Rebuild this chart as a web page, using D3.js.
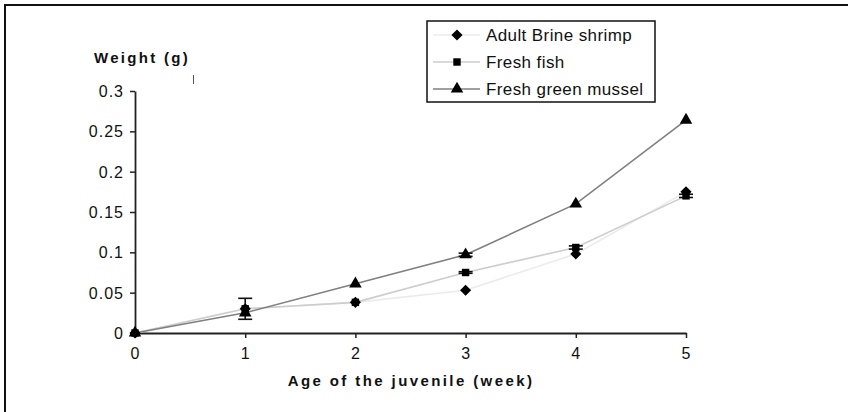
<!DOCTYPE html>
<html>
<head>
<meta charset="utf-8">
<script src="https://cdn.jsdelivr.net/npm/d3@7"></script>
<style>
  body { margin: 0; background: #fff; }
  svg { display: block; font-family: "Liberation Sans", Arial, sans-serif; }
</style>
</head>
<body>
<svg id="chart"></svg>
<script>
const weeks = [0, 1, 2, 3, 4, 5];
const yTicks = [0, 0.05, 0.1, 0.15, 0.2, 0.25, 0.3];
const yTickLabels = ["0", "0.05", "0.1", "0.15", "0.2", "0.25", "0.3"];

const seriesNames = ["Adult Brine shrimp", "Fresh fish", "Fresh green mussel"];
const shrimp = [0, 0.03, 0.038, 0.053, 0.098, 0.175];
const fish = [0, 0.03, 0.038, 0.075, 0.106, 0.17];
const mussel = [0, 0.025, 0.061, 0.097, 0.16, 0.264];
const shrimpErr = [0, 0.013, 0, 0, 0, 0];
const fishErr = [0, 0, 0, 0.001, 0.002, 0.002];
const musselErr = [0, 0, 0, 0.002, 0, 0];

const width = 848;
const height = 412;

const series = [
  { name: seriesNames[0], values: shrimp, err: shrimpErr, color: "#ebebeb", symbol: "diamond" },
  { name: seriesNames[1], values: fish, err: fishErr, color: "#cdcdcd", symbol: "square" },
  { name: seriesNames[2], values: mussel, err: musselErr, color: "#808080", symbol: "triangle" }
];

const svg = d3.select("#chart").attr("width", width).attr("height", height);

// frame (only left and top edges visible)
svg.append("path")
  .attr("d", `M5,${height + 5} V5 H${width + 5}`)
  .attr("fill", "none")
  .attr("stroke", "#111")
  .attr("stroke-width", 2);

const x = d3.scaleLinear().domain([0, 5]).range([135, 686]);
const y = d3.scaleLinear().domain([0, 0.3]).range([333, 91]);

// axes
const xAxis = svg.append("g")
  .attr("transform", `translate(0,${y(0)})`)
  .call(d3.axisBottom(x).tickValues(weeks).tickFormat(d3.format("d")).tickSize(5).tickSizeOuter(0).tickPadding(10));
const yAxis = svg.append("g")
  .attr("transform", `translate(${x(0)},0)`)
  .call(d3.axisLeft(y).tickValues(yTicks).tickFormat((d, i) => yTickLabels[i]).tickSize(5).tickSizeOuter(0).tickPadding(6));

[xAxis, yAxis].forEach((g) => {
  g.select(".domain").attr("stroke", "#222").attr("stroke-width", 1.8);
  g.selectAll(".tick line").attr("stroke", "#222").attr("stroke-width", 1.5);
  g.selectAll(".tick text")
    .attr("fill", "#111")
    .style("font-size", "16px")
    .style("letter-spacing", "1px");
});
yAxis.selectAll(".tick text").attr("dy", "0.35em");

// axis titles
svg.append("text")
  .attr("x", 94)
  .attr("y", 63)
  .style("font-size", "15px")
  .style("font-weight", "bold")
  .style("letter-spacing", "2.3px")
  .attr("fill", "#111")
  .text("Weight (g)");

svg.append("text")
  .attr("x", 411)
  .attr("y", 386)
  .attr("text-anchor", "middle")
  .style("font-size", "15px")
  .style("font-weight", "bold")
  .style("letter-spacing", "2.4px")
  .attr("fill", "#111")
  .text("Age of the juvenile (week)");

// stray mark near the title
svg.append("line")
  .attr("x1", 193.5).attr("x2", 193.5)
  .attr("y1", 75).attr("y2", 84)
  .attr("stroke", "#555").attr("stroke-width", 1);

const symbolType = { diamond: d3.symbolSquare, square: d3.symbolSquare, triangle: d3.symbolTriangle };
const symbolSize = { diamond: 62, square: 55, triangle: 68 };
const symbolRotate = { diamond: 45, square: 0, triangle: 0 };

const line = d3.line().x((d, i) => x(weeks[i])).y((d) => y(d));

// lines
series.forEach((s) => {
  svg.append("path")
    .datum(s.values)
    .attr("fill", "none")
    .attr("stroke", s.color)
    .attr("stroke-width", 1.6)
    .attr("d", line);
});

// error bars
series.forEach((s) => {
  const g = svg.append("g").attr("stroke", "#111").attr("stroke-width", 1.6);
  s.values.forEach((v, i) => {
    if (!s.err[i]) return;
    const cx = x(weeks[i]);
    g.append("line").attr("x1", cx).attr("x2", cx).attr("y1", y(v + s.err[i])).attr("y2", y(v - s.err[i]));
    [v + s.err[i], v - s.err[i]].forEach((e) => {
      g.append("line").attr("x1", cx - 7).attr("x2", cx + 7).attr("y1", y(e)).attr("y2", y(e));
    });
  });
});

// markers
series.forEach((s) => {
  svg.append("g")
    .selectAll("path")
    .data(s.values)
    .join("path")
    .attr("transform", (d, i) => `translate(${x(weeks[i])},${y(d)}) rotate(${symbolRotate[s.symbol]})`)
    .attr("d", d3.symbol().type(symbolType[s.symbol]).size(symbolSize[s.symbol]))
    .attr("fill", "#000");
});

// legend
const legend = svg.append("g").attr("transform", "translate(427,21)");
legend.append("rect")
  .attr("width", 228)
  .attr("height", 81)
  .attr("fill", "#fff")
  .attr("stroke", "#111")
  .attr("stroke-width", 1.5);

series.forEach((s, i) => {
  const ly = 14 + i * 27;
  legend.append("line")
    .attr("x1", 6).attr("x2", 53)
    .attr("y1", ly).attr("y2", ly)
    .attr("stroke", s.color)
    .attr("stroke-width", 1.6);
  legend.append("path")
    .attr("transform", `translate(30,${ly}) rotate(${symbolRotate[s.symbol]})`)
    .attr("d", d3.symbol().type(symbolType[s.symbol]).size(symbolSize[s.symbol]))
    .attr("fill", "#000");
  legend.append("text")
    .attr("x", 59)
    .attr("y", ly)
    .attr("dy", "0.35em")
    .style("font-size", "17px")
    .style("letter-spacing", "0.4px")
    .attr("fill", "#111")
    .text(s.name);
});
</script>
</body>
</html>
